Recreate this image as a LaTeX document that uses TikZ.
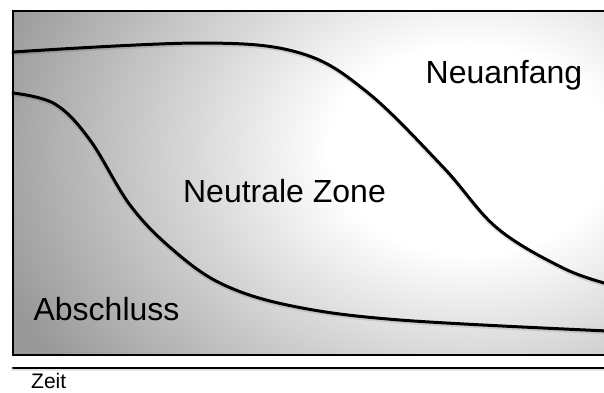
\documentclass[tikz,border=0pt]{standalone}
\usepackage{fontspec}
\setmainfont{Liberation Sans}
\usetikzlibrary{positioning}
\definecolor{zonegray}{HTML}{999999}
\pgfdeclareradialshading{zonefade}{\pgfpoint{0bp}{0bp}}{%
  color(0bp)=(white); color(3.5bp)=(white); color(12.5bp)=(zonegray);
  color(50bp)=(zonegray)}

\begin{document}
\begin{tikzpicture}[x=1pt, y=-1pt, line cap=round,
    softshadow/.style={preaction={draw=black, opacity=0.1, line width=4.5pt,
      transform canvas={yshift=-1.2pt}}},
    phaseline/.style={line width=3pt, softshadow},
    frameline/.style={line width=2pt},
    phaselabel/.style={anchor=base, inner sep=0pt,
      font=\fontsize{32}{38}\selectfont}]
  \useasboundingbox (0,0) rectangle (604,392);
  % background fade
  \begin{scope}
    \clip (13,11) rectangle (612,355);
    \shade[shading=zonefade] (470,150) ellipse (1000pt and 740pt);
  \end{scope}
  \draw[frameline] (13,11) rectangle (612,355);
  % phase borders
  \draw[phaseline] plot[smooth, tension=0.6] coordinates
    {(13,52) (200,43) (300,53) (367,92) (443,167) (497,228) (563,268) (608,284)};
  \draw[phaseline] plot[smooth, tension=0.6] coordinates
    {(13,93) (55,104) (90,140) (130,205) (172,249) (222,284) (292,306)
     (400,320) (608,331)};
  % phases
  \node[phaselabel] (neuanfang) at (504,83) {Neuanfang};
  \node[phaselabel] (neutral) at (284.5,202) {Neutrale Zone};
  \node[phaselabel] (abschluss) at (106.5,320) {Abschluss};
  % time axis
  \draw[frameline, softshadow] (13,368) -- (608,368);
  \node[anchor=base west, inner sep=0pt, font=\fontsize{21}{25}\selectfont]
    (zeit) at (31,388) {Zeit};
\end{tikzpicture}
\end{document}
